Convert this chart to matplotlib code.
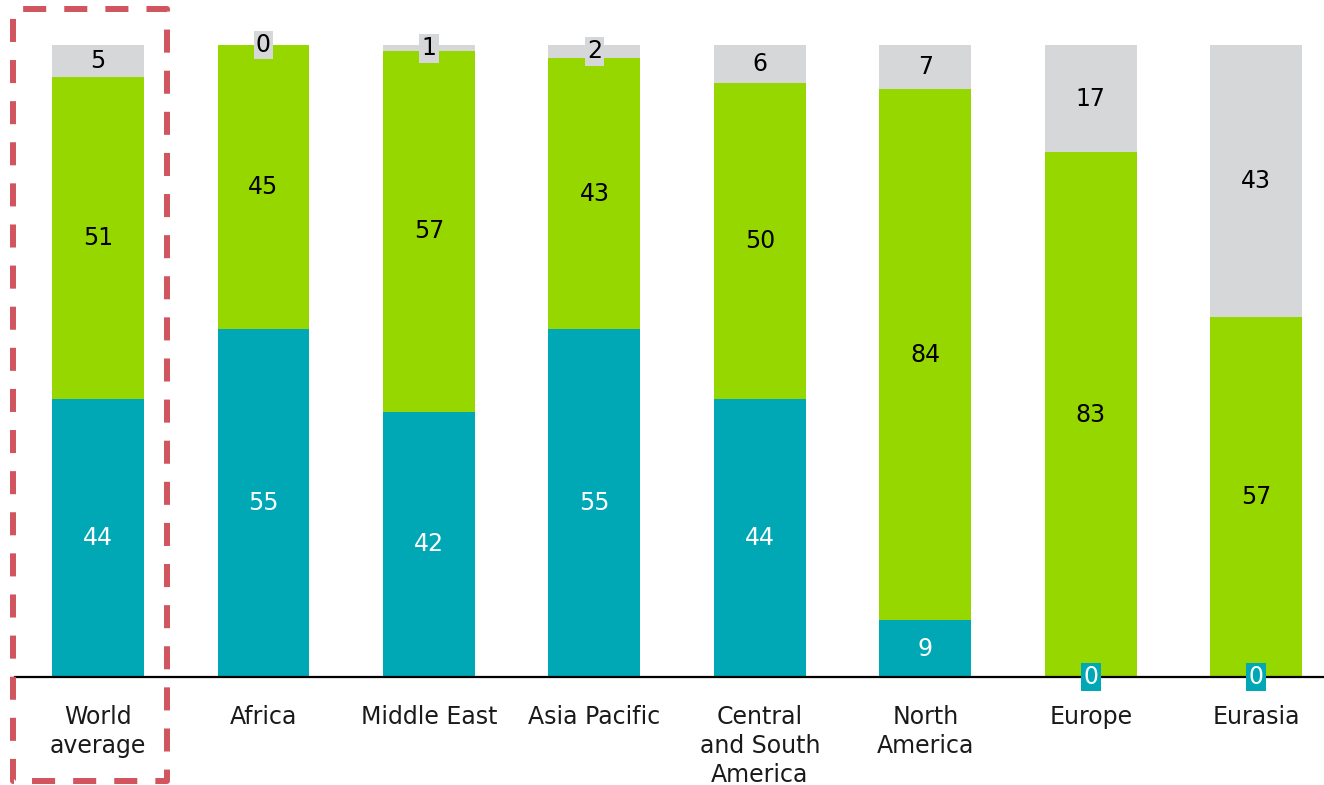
import matplotlib
matplotlib.use("Agg")
import matplotlib.pyplot as plt
from matplotlib.lines import Line2D

regions = ["World\naverage", "Africa", "Middle East", "Asia Pacific",
           "Central\nand South\nAmerica", "North\nAmerica", "Europe", "Eurasia"]
teal_vals = [44, 55, 42, 55, 44, 9, 0, 0]
green_vals = [51, 45, 57, 43, 50, 84, 83, 57]
gray_vals = [5, 0, 1, 2, 6, 7, 17, 43]

TEAL = "#00a8b5"
GREEN = "#97d700"
GRAY = "#d6d7d9"

plt.rcParams["font.family"] = ["DejaVu Sans"]

W, H = 1324, 785
fig = plt.figure(figsize=(W / 100, H / 100), dpi=100)
ax = fig.add_axes([15 / W, (H - 677) / H, (W - 15) / W, (677 - 45) / H])

x = list(range(len(regions)))
width = 0.556
series = [(teal_vals, TEAL, "white"), (green_vals, GREEN, "black"), (gray_vals, GRAY, "black")]

bottom = [0] * len(regions)
for vals, col, tcol in series:
    ax.bar(x, vals, width=width, bottom=bottom, color=col, edgecolor="none", zorder=2)
    for i, v in enumerate(vals):
        mid = bottom[i] + v / 2
        kw = {}
        if v < 3:
            kw["bbox"] = dict(boxstyle="square,pad=0.1", fc=col, ec="none")
        ax.text(i, mid, f"{v}", ha="center", va="center", fontsize=17,
                color=tcol, zorder=5, clip_on=False, **kw)
    bottom = [b + v for b, v in zip(bottom, vals)]

ax.set_xlim(-0.502, 7.41)
ax.set_ylim(0, 100)
ax.axhline(0, color="black", lw=1.6, zorder=3, clip_on=False)
for s in ax.spines.values():
    s.set_visible(False)
ax.set_xticks([])
ax.set_yticks([])

for i, name in enumerate(regions):
    ax.text(i, -4.4, name, ha="center", va="top", fontsize=17, color="#1a1a1a",
            linespacing=1.28, clip_on=False)

# Dashed frame around the world average column (pixel coordinates -> figure fraction)
lw = 4.3
fx = [13, 167, 167, 13, 13]
fy = [9, 9, 781, 781, 9]
frame = Line2D([v / W for v in fx], [1 - v / H for v in fy], transform=fig.transFigure,
               color="#d0555e", lw=lw, solid_capstyle="butt", dash_capstyle="butt",
               linestyle=(22.3 / lw, (16.6 / lw, 13.0 / lw)))
fig.add_artist(frame)

fig.savefig("out.png", dpi=100)
